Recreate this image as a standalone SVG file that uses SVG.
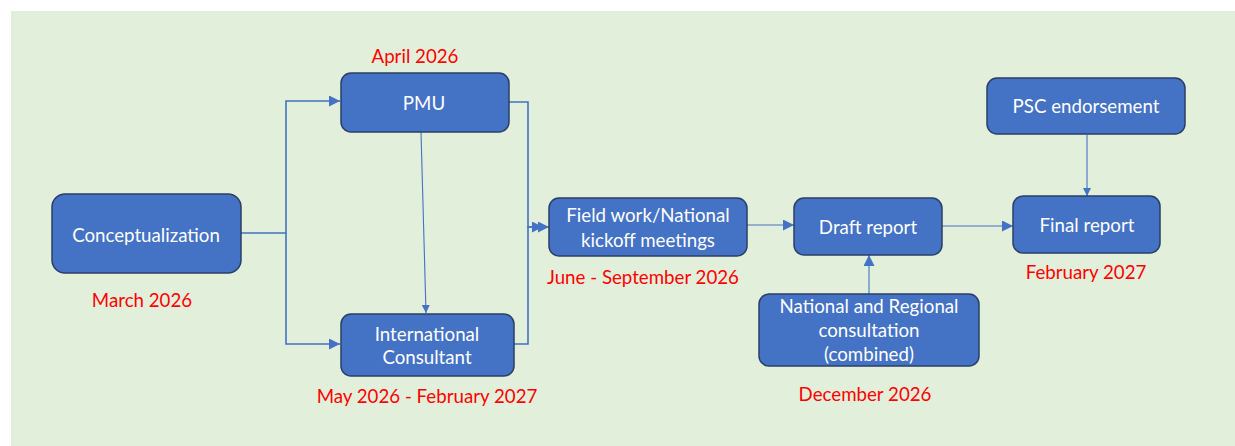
<svg xmlns="http://www.w3.org/2000/svg" width="1235" height="446" viewBox="0 0 1235 446">
<defs>
<style>
.node rect{fill:#4472C4;stroke:#2B3F66;stroke-width:1.5}
.node text{fill:#FFFFFF;font-family:Lato,"Liberation Sans",sans-serif;font-size:18.7px;text-anchor:middle}
.date{fill:#FF0000;font-family:Lato,"Liberation Sans",sans-serif;font-size:18.7px;text-anchor:middle}
.conn path{fill:none;stroke:#4472C4;stroke-width:1.6}
.conn path.thin{stroke-width:1.1}
</style>
<marker id="arr" viewBox="0 0 10 10" refX="10" refY="5" markerWidth="8" markerHeight="8" markerUnits="userSpaceOnUse" orient="auto">
<path d="M0,0 L10,5 L0,10 z" fill="#4472C4"/>
</marker>
<marker id="arrL" viewBox="0 0 10 10" refX="10" refY="5" markerWidth="11" markerHeight="11" markerUnits="userSpaceOnUse" orient="auto">
<path d="M0,0 L10,5 L0,10 z" fill="#4472C4"/>
</marker>
</defs>
<rect x="11" y="11" width="1224" height="435" fill="#E2EFDA"/>

<g class="conn">
<path d="M241,233 H286 V101 H340" marker-end="url(#arrL)"/>
<path d="M286,233 V344 H340" marker-end="url(#arrL)"/>
<path class="thin" d="M421,132 L426,313" marker-end="url(#arr)"/>
<path d="M509,102 H528 V227 H543" marker-end="url(#arrL)"/>
<path d="M514,344 H528 V227 H549" marker-end="url(#arrL)"/>
<path class="thin" d="M747,225 H794" marker-end="url(#arrL)"/>
<path class="thin" d="M942,226 H1013" marker-end="url(#arrL)"/>
<path class="thin" d="M1087,135 V196" marker-end="url(#arr)"/>
<path class="thin" d="M869,294 V255" marker-end="url(#arrL)"/>
</g>

<g id="conceptualization" class="node">
<rect x="52" y="194" width="189" height="79" rx="13"/>
<text x="146" y="242">Conceptualization</text>
</g>
<g id="pmu" class="node">
<rect x="341" y="73" width="168" height="59" rx="10"/>
<text x="424" y="110">PMU</text>
</g>
<g id="international-consultant" class="node">
<rect x="341" y="314" width="173" height="62" rx="10"/>
<text x="427" y="341">International</text>
<text x="427" y="364">Consultant</text>
</g>
<g id="field-work" class="node">
<rect x="549" y="198" width="198" height="58" rx="10"/>
<text x="648" y="222">Field work/National</text>
<text x="648" y="247">kickoff meetings</text>
</g>
<g id="draft-report" class="node">
<rect x="794" y="198" width="148" height="57" rx="10"/>
<text x="868" y="234">Draft report</text>
</g>
<g id="national-regional" class="node">
<rect x="759" y="294" width="220" height="72" rx="10"/>
<text x="869" y="313">National and Regional</text>
<text x="869" y="337">consultation</text>
<text x="869" y="361">(combined)</text>
</g>
<g id="final-report" class="node">
<rect x="1013" y="196" width="147" height="57" rx="10"/>
<text x="1087" y="232">Final report</text>
</g>
<g id="psc-endorsement" class="node">
<rect x="987" y="78" width="198" height="56" rx="10"/>
<text x="1086" y="113">PSC endorsement</text>
</g>

<g id="dates">
<text class="date" x="142" y="307">March 2026</text>
<text class="date" x="415" y="63">April 2026</text>
<text class="date" x="427" y="403">May 2026 - February 2027</text>
<text class="date" x="643" y="284">June - September 2026</text>
<text class="date" x="865" y="401">December 2026</text>
<text class="date" x="1086" y="279">February 2027</text>
</g>
</svg>
